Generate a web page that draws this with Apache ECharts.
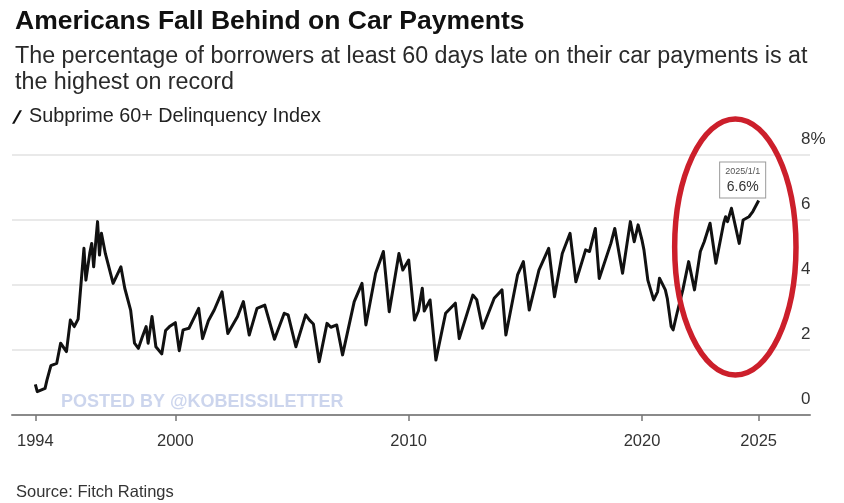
<!DOCTYPE html>
<html>
<head>
<meta charset="utf-8">
<script src="https://cdn.jsdelivr.net/npm/echarts@6/dist/echarts.min.js"></script>
<style>
  html, body { margin: 0; padding: 0; background: #fff; }
  #chart { width: 844px; height: 503px; }
</style>
</head>
<body>
<div id="chart"></div>
<script>
// Subprime 60+ day auto delinquency index (Fitch), month and percent
const dates = [
  '1994-01','1994-02','1994-06','1994-07','1994-09','1994-12',
  '1995-02','1995-05','1995-07','1995-09','1995-11',
  '1996-02','1996-03','1996-05','1996-06','1996-07','1996-08','1996-09','1996-10','1996-11',
  '1997-01','1997-05','1997-09','1997-11',
  '1998-02','1998-04','1998-06','1998-08','1998-10','1998-11',
  '1999-01','1999-03','1999-06','1999-08','1999-10',
  '2000-01','2000-03','2000-05','2000-08',
  '2001-01','2001-03','2001-06','2001-09',
  '2002-01','2002-04','2002-09','2002-12',
  '2003-03','2003-07','2003-11',
  '2004-04','2004-09','2004-11',
  '2005-03','2005-08','2005-10','2005-12',
  '2006-03','2006-07','2006-09','2006-12',
  '2007-03','2007-09',
  '2008-01','2008-03','2008-08','2008-12',
  '2009-03','2009-08','2009-10',
  '2010-01','2010-04','2010-06','2010-08','2010-09','2010-12',
  '2011-03','2011-08',
  '2012-01','2012-03','2012-10','2012-12',
  '2013-03','2013-09',
  '2014-01','2014-03','2014-09','2014-12',
  '2015-03','2015-08',
  '2016-01','2016-04','2016-08','2016-12',
  '2017-03','2017-08','2017-10',
  '2018-01','2018-03','2018-09','2018-11',
  '2019-03','2019-07','2019-09','2019-11',
  '2020-01','2020-02','2020-04','2020-07','2020-09','2020-10',
  '2021-01','2021-02','2021-04','2021-05','2021-07','2021-10',
  '2022-01','2022-04','2022-07','2022-09','2022-12',
  '2023-03','2023-07','2023-08','2023-09','2023-11',
  '2024-03','2024-05','2024-08','2024-10',
  '2025-01'
];
const rates = [
  0.94,0.72,0.82,1.08,1.52,1.59,
  2.21,1.95,2.92,2.72,2.95,
  5.13,4.15,4.98,5.28,4.56,5.28,5.95,4.92,5.59,
  4.97,4.05,4.56,3.90,
  3.23,2.21,2.05,2.40,2.72,2.21,
  3.03,2.10,1.88,2.60,2.72,
  2.84,1.98,2.62,2.67,
  3.28,2.35,2.90,3.23,
  3.79,2.51,3.03,3.49,
  2.46,3.28,3.38,
  2.33,3.13,3.08,
  2.10,3.08,2.92,2.80,
  1.64,2.82,2.70,2.77,
  1.85,3.49,
  4.05,2.77,4.36,5.03,
  3.18,4.97,4.46,
  4.77,2.92,3.20,3.90,3.20,3.54,
  1.69,3.13,
  3.44,2.35,3.69,3.55,
  2.67,3.59,
  3.85,2.46,4.31,4.72,
  3.23,4.46,
  5.13,3.64,4.97,5.59,
  4.10,5.08,5.03,
  5.74,4.20,5.28,5.74,
  4.36,5.95,5.33,5.85,
  5.38,5.08,4.15,3.54,3.79,4.21,
  3.85,3.59,2.72,2.62,3.13,3.85,
  4.72,3.85,5.03,5.33,5.90,
  4.67,5.90,6.10,5.95,6.36,
  5.28,6.00,6.10,6.26,
  6.60
];
const yearTicks = [1994, 2000, 2010, 2020, 2025];
const pctTicks = [0, 2, 4, 6, 8];

const titleText = 'Americans Fall Behind on Car Payments';
const subtitleText = 'The percentage of borrowers at least 60 days late on their car payments is at\nthe highest on record';
const seriesName = 'Subprime 60+ Delinquency Index';
const sourceText = 'Source: Fitch Ratings';
const watermarkText = 'POSTED BY @KOBEISSILETTER';

const FONT = '"Liberation Sans", Arial, Helvetica, sans-serif';

// month string -> fractional year on the value axis
function toYear(d) {
  const [y, m] = d.split('-').map(Number);
  return y + (m - 1) / 12;
}
function toStamp(d) {
  const [y, m] = d.split('-').map(Number);
  return y + '/' + m + '/1';
}

const lastIdx = dates.length - 1;
const seriesData = dates.map((d, i) => {
  const item = { value: [toYear(d), rates[i]] };
  if (i === lastIdx) {
    item.label = {
      show: true,
      position: 'top',
      distance: 3,
      offset: [-16, 0],
      formatter: '{d|' + toStamp(d) + '}\n{v|' + rates[i].toFixed(1) + '%}',
      backgroundColor: '#fff',
      borderColor: '#9a9a9a',
      borderWidth: 1,
      padding: [3, 5, 2, 5],
      rich: {
        d: { fontSize: 9, color: '#555', fontFamily: FONT, lineHeight: 13 },
        v: { fontSize: 14, color: '#333', fontFamily: FONT, lineHeight: 17 }
      }
    };
  }
  return item;
});

const chart = echarts.init(document.getElementById('chart'), null, { renderer: 'canvas' });

chart.setOption({
  backgroundColor: '#fff',
  animation: false,
  title: [
    {
      text: titleText,
      left: 10, top: 3,
      textStyle: { fontFamily: FONT, fontSize: 26.5, fontWeight: 'bold', color: '#111' }
    },
    {
      text: subtitleText,
      left: 10, top: 39,
      textStyle: { fontFamily: FONT, fontSize: 23.3, fontWeight: 'normal', color: '#2a2a2a', lineHeight: 25.5 }
    },
    {
      text: sourceText,
      left: 11, top: 479,
      textStyle: { fontFamily: FONT, fontSize: 16.5, fontWeight: 'normal', color: '#333' }
    }
  ],
  legend: {
    left: 7, top: 102,
    itemWidth: 10, itemHeight: 14, itemGap: 8,
    icon: 'path://M0,14 L8,0 L10.5,0 L2.5,14 Z',
    textStyle: { fontFamily: FONT, fontSize: 19.8, color: '#222', padding: [0, 0, 0, 2] },
    data: [seriesName]
  },
  grid: { left: 12, width: 798, top: 155, height: 260 },
  xAxis: {
    type: 'value',
    min: 1993,
    max: 2027.2,
    axisLine: { show: true, lineStyle: { color: '#8a8a8a', width: 2 } },
    axisTick: { show: true, customValues: yearTicks, length: 6, lineStyle: { color: '#777', width: 1.5 } },
    axisLabel: {
      customValues: yearTicks,
      formatter: v => String(v),
      fontFamily: FONT, fontSize: 16.5, color: '#333', margin: 18
    },
    splitLine: { show: false }
  },
  yAxis: {
    type: 'value',
    position: 'right',
    min: 0, max: 8, interval: 2,
    axisLine: { show: false },
    axisTick: { show: false },
    axisLabel: {
      customValues: pctTicks,
      formatter: v => (v === 8 ? v + '%' : String(v)),
      align: 'left', verticalAlign: 'bottom',
      margin: -9, padding: [0, 0, 7, 0],
      fontFamily: FONT, fontSize: 17, color: '#333'
    },
    splitLine: { show: true, lineStyle: { color: '#e2e2e2', width: 1.5 } }
  },
  series: [{
    name: seriesName,
    type: 'line',
    data: seriesData,
    symbol: 'circle',
    symbolSize: 0.1,
    showSymbol: true,
    color: '#111',
    itemStyle: { color: '#111' },
    lineStyle: { color: '#111', width: 3, join: 'round' },
    z: 3
  }]
});

// Red ring around the recent climb, sized in axis units
const c = chart.convertToPixel({ gridIndex: 0 }, [2024.0, 5.17]);
const e = chart.convertToPixel({ gridIndex: 0 }, [2024.0 + 2.6, 5.17 + 3.94]);
const rx = Math.abs(e[0] - c[0]);
const ry = Math.abs(e[1] - c[1]);

chart.setOption({
  graphic: [
    {
      type: 'text',
      left: 61, top: 393,
      z: 1,
      style: {
        text: watermarkText,
        font: 'bold 18px ' + FONT,
        fill: 'rgba(170,185,225,0.6)'
      }
    },
    {
      type: 'ellipse',
      z: 10,
      shape: { cx: c[0], cy: c[1], rx: rx, ry: ry },
      style: { fill: 'none', stroke: '#cc1f2b', lineWidth: 5.5 }
    }
  ]
});
</script>
</body>
</html>
